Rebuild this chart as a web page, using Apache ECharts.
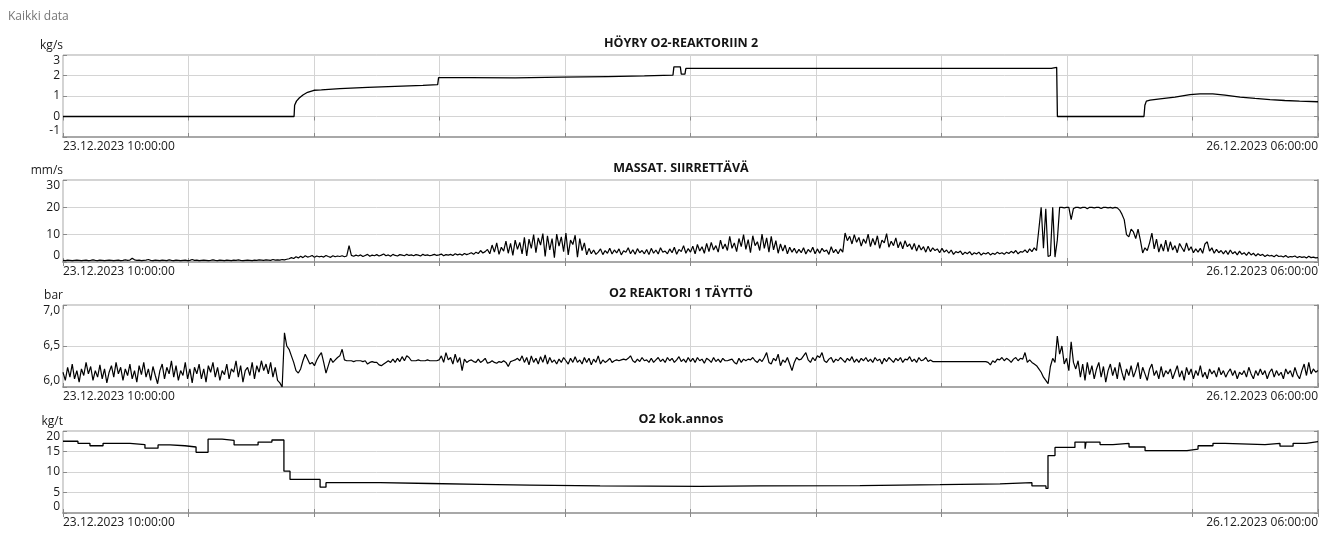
<!DOCTYPE html>
<html>
<head>
<meta charset="utf-8">
<script src="https://cdn.jsdelivr.net/npm/echarts@6/dist/echarts.min.js"></script>
<style>html,body{margin:0;padding:0;background:#fff}#c{width:1334px;height:534px}</style>
</head>
<body>
<div id="c"></div>
<script>
// ---- Data (x in hours from 23.12.2023 10:00:00) ----
const pageTitle = 'Kaikki data';
const xTickLabels = ['23.12.2023 10:00:00', '26.12.2023 06:00:00'];
const xMaxHours = 68;
const sampleStepHours = 0.125;

const panelTitles = ['HÖYRY O2-REAKTORIIN 2', 'MASSAT. SIIRRETTÄVÄ', 'O2 REAKTORI 1 TÄYTTÖ', 'O2 kok.annos'];
const panelUnits = ['kg/s', 'mm/s', 'bar', 'kg/t'];

// Panel 1: HÖYRY O2-REAKTORIIN 2 (kg/s)
const hoyryT = [0,12.52,12.55,12.65,12.8,13.0,13.25,13.6,14.0,15.0,16.5,18.0,19.5,20.3,20.35,22.0,24.5,27.0,29.5,31.5,33.05,33.1,33.45,33.5,33.7,33.75,40.0,47.0,53.55,53.58,53.84,53.88,58.57,58.62,58.7,58.9,59.44,60.25,61.06,61.6,62.3,62.96,63.78,64.59,65.4,66.2,67.0,68];
const hoyryV = [0,0,0.55,0.75,0.9,1.05,1.18,1.28,1.3,1.36,1.42,1.47,1.52,1.55,1.9,1.9,1.88,1.92,1.95,1.98,2.02,2.42,2.42,2.07,2.07,2.35,2.35,2.35,2.35,2.4,2.4,0,0,0.55,0.75,0.8,0.86,0.95,1.07,1.1,1.1,1.04,0.95,0.88,0.82,0.78,0.75,0.72];

// Panel 2: MASSAT. SIIRRETTÄVÄ (mm/s), 8 values per hour (one row = one hour)
const massatV = [
0.6,0.5,0.7,0.6,0.5,0.6,0.7,0.6,
0.5,0.6,0.7,0.5,0.6,0.8,0.6,0.5,
0.7,0.6,0.5,0.6,0.7,0.6,0.5,0.6,
0.7,0.5,0.6,0.8,0.6,0.7,1.4,0.8,
0.6,0.7,0.5,0.6,0.7,0.9,0.6,0.5,
0.7,0.6,0.5,0.7,0.6,0.5,0.8,0.6,
0.5,0.7,0.6,0.5,0.6,0.7,0.5,0.6,
0.9,0.6,0.7,0.5,0.6,0.7,0.6,0.5,
0.6,0.8,0.6,0.5,0.7,0.6,0.5,0.7,
0.6,0.5,0.7,0.6,0.8,0.6,0.5,0.6,
0.7,0.6,0.5,0.7,0.6,0.8,0.7,0.6,
0.8,0.7,0.6,0.9,0.7,0.8,0.7,0.9,
0.8,1.0,1.2,1.6,1.3,1.9,1.5,2.1,
1.6,2.3,1.8,2.0,2.4,1.7,2.2,1.9,
2.1,1.8,2.4,2.0,1.7,2.3,1.9,2.2,
2.0,2.3,1.9,2.2,6.0,2.4,2.1,2.5,
2.2,2.6,2.0,2.4,2.8,2.1,2.5,2.3,
2.7,2.2,2.5,2.9,2.3,2.6,2.1,2.8,
2.4,2.2,2.7,2.5,2.3,2.8,2.4,2.6,
2.3,2.7,2.5,2.2,2.8,2.4,2.6,2.3,
2.5,2.8,2.4,2.6,2.9,2.3,2.7,2.5,
2.8,2.4,3.0,2.6,2.9,2.5,3.1,2.7,
3.0,3.4,2.8,3.6,3.1,4.2,3.3,3.8,
4.6,3.0,6.2,3.6,7.0,2.8,5.4,4.0,
7.6,3.2,6.8,2.4,8.0,4.6,7.2,3.0,
9.0,2.2,8.4,5.0,10.0,3.4,8.8,6.2,
10.4,2.0,9.6,4.4,8.6,1.6,10.2,5.8,
9.2,3.8,10.6,2.6,8.0,6.4,9.8,1.8,
8.6,4.2,7.0,2.6,5.0,3.0,4.4,2.8,
3.6,4.8,2.7,4.2,3.2,5.0,2.9,4.4,
3.3,4.8,2.6,4.1,3.6,5.2,3.0,4.5,
2.8,4.9,3.4,4.2,3.0,4.6,2.7,5.0,
3.2,4.4,2.9,5.2,3.6,4.0,3.0,4.8,
3.4,5.4,2.8,4.6,3.8,6.0,3.2,4.9,
3.6,5.8,3.0,6.4,4.0,5.6,3.2,6.8,
3.8,7.2,4.4,6.0,3.6,8.0,4.8,6.6,
4.2,9.4,5.0,7.0,3.8,8.6,5.6,10.0,
4.6,8.2,3.4,9.6,6.0,7.4,4.2,10.2,
5.0,8.8,3.6,9.4,4.4,7.8,3.2,6.6,
4.0,6.2,3.0,5.4,3.6,5.0,3.2,4.6,
3.4,5.2,2.9,4.6,3.6,5.4,3.0,4.8,
3.2,5.0,3.8,4.4,2.8,5.6,3.4,4.6,
3.0,4.8,3.6,10.6,7.8,9.4,6.6,10.0,
7.2,9.0,5.8,8.4,6.8,10.2,5.6,8.6,
6.2,9.6,5.0,8.0,7.0,10.4,5.4,7.6,
6.0,8.8,5.2,7.4,4.8,7.8,5.6,6.6,
4.6,6.8,4.0,6.2,4.4,5.6,3.6,5.8,
3.8,5.2,4.2,4.8,3.4,5.0,3.6,4.4,
3.2,4.4,2.8,3.8,3.4,4.0,2.7,3.6,
3.0,3.8,2.6,3.4,2.9,3.6,2.5,3.3,
2.9,3.5,2.6,3.2,2.8,3.6,3.0,3.4,
2.8,3.6,3.1,3.9,3.3,4.2,3.0,3.8,
3.6,4.4,3.4,4.8,3.8,5.2,4.2,12.0,
20.0,5.0,19.5,2.0,2.4,20.0,1.8,8.0,
20.0,20.0,19.8,20.0,20.0,15.5,19.6,20.0,
20.0,19.7,20.0,20.0,19.5,20.0,20.0,19.8,
20.0,20.0,19.6,20.0,20.0,19.8,20.0,19.7,
20.0,19.8,19.0,17.5,15.5,10.0,9.2,12.0,
11.0,8.6,12.0,8.0,3.3,5.2,4.2,7.0,
10.6,4.8,8.4,3.6,6.6,4.0,8.0,3.8,
7.4,4.4,6.0,3.4,6.8,5.2,3.8,7.0,
4.2,5.6,3.4,4.8,3.6,5.0,3.2,6.6,
7.4,4.0,5.2,3.2,4.6,3.4,4.2,3.0,
4.2,2.8,4.4,3.0,3.8,2.6,4.0,2.8,
3.4,2.4,3.6,2.6,3.2,2.2,3.0,2.4,
2.8,2.0,2.6,2.2,2.4,1.9,2.6,2.0,
2.2,1.8,2.4,1.7,2.0,1.9,2.2,1.6,
2.0,1.7,1.9,1.5,2.1,1.6,1.8,1.5,
1.6];

// Panel 3: O2 REAKTORI 1 TÄYTTÖ (bar), 8 values per hour (one row = one hour)
const tayttoV = [
6.18,6.08,6.24,6.12,6.28,6.1,6.2,6.06,
6.22,6.14,6.3,6.16,6.25,6.08,6.2,6.12,
6.27,6.1,6.22,6.05,6.18,6.26,6.12,6.3,
6.16,6.24,6.08,6.22,6.14,6.28,6.1,6.2,
6.06,6.26,6.15,6.3,6.12,6.22,6.08,6.25,
6.14,6.04,6.2,6.28,6.1,6.24,6.16,6.32,
6.12,6.26,6.08,6.2,6.14,6.3,6.1,6.22,
6.05,6.24,6.16,6.28,6.1,6.22,6.06,6.26,
6.18,6.3,6.12,6.24,6.08,6.2,6.15,6.28,
6.1,6.22,6.18,6.32,6.12,6.26,6.06,6.2,
6.24,6.14,6.3,6.1,6.26,6.18,6.32,6.2,
6.28,6.16,6.3,6.12,6.24,6.08,6.05,6.0,
6.66,6.5,6.46,6.38,6.3,6.2,6.17,6.22,
6.32,6.4,6.34,6.28,6.3,6.26,6.33,6.38,
6.42,6.3,6.17,6.26,6.35,6.3,6.33,6.36,
6.38,6.46,6.33,6.32,6.32,6.32,6.31,6.32,
6.32,6.32,6.31,6.32,6.28,6.3,6.31,6.3,
6.3,6.27,6.26,6.28,6.3,6.32,6.3,6.34,
6.3,6.35,6.31,6.37,6.32,6.38,6.36,6.32,
6.32,6.32,6.33,6.32,6.32,6.32,6.33,6.32,
6.32,6.32,6.32,6.33,6.38,6.3,6.42,6.33,
6.36,6.28,6.4,6.3,6.36,6.2,6.34,6.3,
6.32,6.33,6.31,6.3,6.34,6.3,6.32,6.35,
6.29,6.3,6.32,6.3,6.29,6.31,6.3,6.32,
6.3,6.25,6.31,6.32,6.33,6.35,6.32,6.38,
6.3,6.36,6.27,6.38,6.3,6.35,6.28,6.37,
6.3,6.39,6.28,6.36,6.3,6.33,6.28,6.34,
6.3,6.36,6.32,6.28,6.35,6.3,6.37,6.3,
6.33,6.28,6.36,6.3,6.35,6.27,6.34,6.3,
6.38,6.28,6.33,6.3,6.32,6.35,6.3,6.32,
6.33,6.32,6.33,6.34,6.33,6.35,6.38,6.32,
6.3,6.34,6.31,6.36,6.32,6.33,6.3,6.35,
6.3,6.33,6.36,6.31,6.34,6.3,6.36,6.32,
6.35,6.3,6.33,6.37,6.31,6.34,6.3,6.36,
6.31,6.35,6.3,6.36,6.32,6.34,6.29,6.35,
6.33,6.3,6.36,6.31,6.34,6.3,6.35,6.32,
6.32,6.33,6.34,6.3,6.28,6.35,6.3,6.34,
6.32,6.34,6.33,6.36,6.32,6.3,6.34,6.31,
6.36,6.42,6.3,6.28,6.35,6.32,6.4,6.26,
6.33,6.3,6.36,6.28,6.2,6.3,6.36,6.33,
6.34,6.38,6.42,6.33,6.3,6.36,6.32,6.38,
6.36,6.42,6.32,6.3,6.34,6.36,6.3,6.34,
6.32,6.36,6.33,6.3,6.35,6.32,6.37,6.3,
6.34,6.3,6.35,6.32,6.36,6.31,6.34,6.3,
6.36,6.32,6.34,6.28,6.35,6.31,6.36,6.33,
6.3,6.35,6.32,6.36,6.3,6.34,6.33,6.37,
6.31,6.34,6.3,6.36,6.32,6.33,6.36,6.31,
6.33,6.31,6.31,6.31,6.31,6.31,6.31,6.31,
6.31,6.31,6.31,6.31,6.31,6.31,6.31,6.31,
6.31,6.31,6.31,6.31,6.31,6.31,6.31,6.31,
6.31,6.3,6.27,6.32,6.3,6.34,6.33,6.36,
6.32,6.35,6.33,6.3,6.34,6.36,6.32,6.35,
6.34,6.42,6.3,6.33,6.3,6.28,6.26,6.22,
6.18,6.12,6.08,6.04,6.25,6.35,6.3,6.62,
6.4,6.5,6.28,6.35,6.2,6.55,6.3,6.22,
6.32,6.12,6.28,6.08,6.3,6.15,6.26,6.1,
6.22,6.3,6.12,6.25,6.06,6.2,6.28,6.14,
6.24,6.1,6.3,6.18,6.08,6.22,6.14,6.26,
6.12,6.2,6.3,6.1,6.24,6.16,6.08,6.22,
6.28,6.14,6.2,6.1,6.25,6.12,6.2,6.16,
6.22,6.1,6.18,6.26,6.12,6.2,6.08,6.24,
6.15,6.22,6.1,6.2,6.14,6.26,6.12,6.18,
6.1,6.22,6.16,6.2,6.12,6.24,6.15,6.2,
6.12,6.18,6.22,6.14,6.2,6.1,6.18,6.15,
6.2,6.12,6.24,6.16,6.1,6.2,6.14,6.22,
6.15,6.2,6.1,6.18,6.22,6.12,6.2,6.14,
6.18,6.1,6.22,6.16,6.2,6.12,6.24,6.15,
6.1,6.2,6.28,6.14,6.3,6.16,6.22,6.18,
6.2];

// Panel 4: O2 kok.annos (kg/t), step changes
const annosT = [0,0.81,1.46,2.17,3.63,4.44,5.15,5.80,6.61,7.21,7.86,8.62,9.27,10.57,11.32,11.97,12.30,13.93,14.25,17.18,19.89,22.59,25.30,29.10,34.51,37.77,43.18,47.52,50.77,52.50,53.26,53.37,53.75,54.83,55.38,55.43,56.19,56.89,57.76,58.63,60.90,61.50,62.31,62.96,65.13,65.94,66.65,67.35,68];
const annosV = [17.5,17.0,16.4,17.0,16.7,15.8,16.6,16.4,16.1,14.8,18.0,17.7,16.6,17.3,17.8,10.2,8.2,6.3,7.4,7.2,7.0,6.8,6.6,6.5,6.6,6.7,6.9,7.1,7.4,6.6,6.0,14.0,16.0,17.3,15.7,17.3,16.7,17.0,16.1,15.2,15.6,16.4,17.0,16.7,17.0,16.3,17.0,17.4,17.4];

// y-axis scales
const yMins = [-1, 0, 6, 0];
const yMaxs = [3, 30, 7, 20];
const yIntervals = [1, 10, 0.5, 5];

// ---- Build chart ----
const FONT = "'Segoe UI','Open Sans',sans-serif";
const zip = (t, v) => t.map((x, i) => [x, v[i]]);
const sampled = v => v.map((y, i) => [i * sampleStepHours, y]);
const seriesData = [zip(hoyryT, hoyryV), sampled(massatV), sampled(tayttoV), zip(annosT, annosV)];

const gridTops = [55, 180, 305, 431];
const gridH = 82;
const grids = [], xAxes = [], yAxes = [], series = [], titles = [];

titles.push({ text: pageTitle, left: 3, top: 6, textStyle: { fontFamily: FONT, fontSize: 12, fontWeight: 'normal', color: '#767676' } });

const tickStyle = { show: true, inside: true, length: 4, lineStyle: { color: '#8a8a8a', width: 1 } };
const gridLine = { show: true, lineStyle: { color: '#d4d4d4', width: 1 } };

for (let p = 0; p < 4; p++) {
  grids.push({ left: 63, right: 16, top: gridTops[p], height: gridH, show: true, borderColor: '#a6a6a6', borderWidth: 1, backgroundColor: '#fff' });
  titles.push({ text: panelTitles[p], left: 676, textAlign: 'center', top: gridTops[p] - 23,
    textStyle: { fontFamily: FONT, fontSize: 12.5, fontWeight: 'bold', color: '#141414' } });
  xAxes.push({ type: 'value', gridIndex: p, min: 0, max: xMaxHours, interval: xMaxHours / 10, position: 'bottom',
    axisLine: { show: true, onZero: false, lineStyle: { color: '#a8a8a8', width: 2 } },
    axisTick: tickStyle, splitLine: gridLine,
    axisLabel: { show: true, margin: 4, fontFamily: FONT, fontSize: 12, color: '#1a1a1a',
      showMinLabel: true, showMaxLabel: true, alignMinLabel: 'left', alignMaxLabel: 'right',
      formatter: v => (Math.abs(v) < 1e-6 ? xTickLabels[0] : (Math.abs(v - xMaxHours) < 1e-6 ? xTickLabels[1] : '')) } });
  xAxes.push({ type: 'value', gridIndex: p, min: 0, max: xMaxHours, interval: xMaxHours / 10, position: 'top',
    axisLine: { show: false }, axisTick: tickStyle, splitLine: { show: false }, axisLabel: { show: false } });
  yAxes.push({ type: 'value', gridIndex: p, min: yMins[p], max: yMaxs[p], interval: yIntervals[p], position: 'left',
    name: panelUnits[p], nameLocation: 'end', nameGap: 3,
    nameTextStyle: { fontFamily: FONT, fontSize: 12, color: '#1a1a1a', align: 'right', verticalAlign: 'bottom' },
    axisLine: { show: false }, axisTick: tickStyle, splitLine: gridLine,
    axisLabel: { margin: 3, fontFamily: FONT, fontSize: 12, color: '#1a1a1a',
      verticalAlignMinLabel: 'bottom', verticalAlignMaxLabel: 'top',
      formatter: v => (p === 2 ? v.toFixed(1).replace('.', ',') : String(v)) } });
  yAxes.push({ type: 'value', gridIndex: p, min: yMins[p], max: yMaxs[p], interval: yIntervals[p], position: 'right',
    axisLine: { show: true, onZero: false, lineStyle: { color: '#a8a8a8', width: 2 } },
    axisTick: tickStyle, splitLine: { show: false }, axisLabel: { show: false } });

  series.push({ type: 'line', xAxisIndex: p * 2, yAxisIndex: p * 2, data: seriesData[p],
    step: p === 3 ? 'end' : false, showSymbol: false, symbol: 'none', silent: true,
    lineStyle: { color: '#000', width: (p === 1 || p === 2) ? 1.2 : 1.3 }, animation: false });
}

const chart = echarts.init(document.getElementById('c'), null, { renderer: 'canvas' });
chart.setOption({ backgroundColor: '#fff', animation: false, title: titles, grid: grids, xAxis: xAxes, yAxis: yAxes, series: series });
</script>
</body>
</html>
